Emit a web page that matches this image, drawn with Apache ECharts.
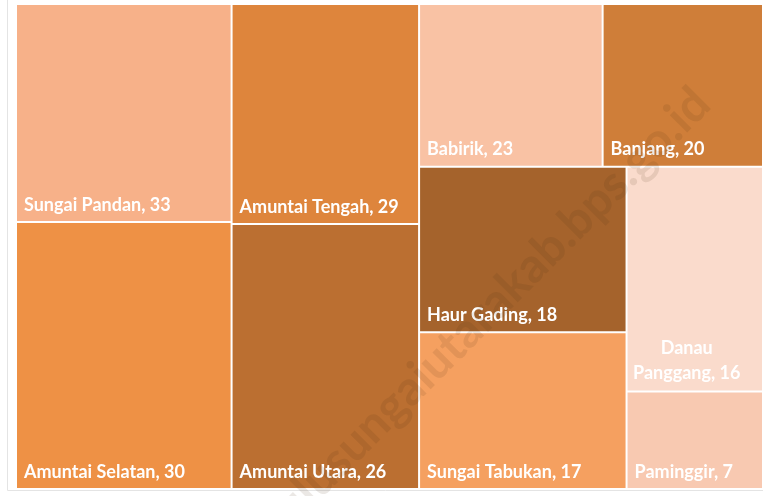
<!DOCTYPE html>
<html lang="id">
<head>
    <meta charset="UTF-8">
    <title>Jumlah Desa per Kecamatan</title>
    <script src="https://cdn.jsdelivr.net/npm/echarts@6/dist/echarts.min.js"></script>
    <style>
        html, body { margin: 0; padding: 0; background: #fff; }
        #treemapBox { width: 763px; height: 496px; }
    </style>
</head>
<body>
<div id="treemapBox"></div>
<script type="text/javascript">
    // kecamatan, urut seperti di gambar
    var districts = ['Sungai Pandan', 'Amuntai Selatan', 'Amuntai Tengah', 'Amuntai Utara', 'Babirik',
        'Banjang', 'Haur Gading', 'Sungai Tabukan', 'Danau Panggang', 'Paminggir'];
    // angka pada label
    var villageCounts = [33, 30, 29, 26, 23, 20, 18, 17, 16, 7];
    // luas kotak di gambar (% dari seluruh area), tidak sama persis dengan angka label
    var boxShare = [12.97, 15.89, 11.38, 13.72, 8.24, 7.20, 9.49, 8.97, 8.47, 3.67];
    // label yang dipecah jadi dua baris
    var wrappedNames = ['Danau Panggang'];

    var boxColors = ['#F7B189', '#EE9145', '#DE853C', '#BB6F31', '#F9C2A4',
        '#CF7E39', '#A5632C', '#F5A060', '#FADBCC', '#F8C9B1'];

    var labelFont = {
        color: '#fff',
        fontFamily: 'Lato',
        fontWeight: 'bold',
        fontSize: 18
    };

    var myChart = echarts.init(document.getElementById('treemapBox'));

    var treeData = [];
    for (var i = 0; i < districts.length; i++) {
        var item = {
            name: districts[i],
            value: [boxShare[i], villageCounts[i]],
            itemStyle: { color: boxColors[i] }
        };
        if (wrappedNames.indexOf(districts[i]) >= 0) {
            var words = districts[i].split(' ');
            item.label = {
                position: ['44%', '97.7%'],
                align: 'center',
                verticalAlign: 'bottom',
                lineHeight: 25,
                formatter: words[0] + '\n' + words.slice(1).join(' ') + ', ' + villageCounts[i]
            };
        }
        treeData.push(item);
    }

    var option = {
        animation: false,
        graphic: [
            {
                type: 'rect',
                shape: { x: 7.5, y: -10, width: 800, height: 500.5 },
                style: { fill: 'none', stroke: '#e4e4e4', lineWidth: 1 },
                z: -10
            },
            {
                type: 'text',
                x: 702,
                y: 96,
                rotation: 45 * Math.PI / 180,
                z: 100,
                style: {
                    text: 'hulusungaiutarakab.bps.go.id',
                    fill: 'rgba(70, 45, 20, 0.11)',
                    fontFamily: 'Lato',
                    fontWeight: 'bold',
                    fontSize: 48,
                    align: 'right',
                    verticalAlign: 'middle'
                }
            }
        ],
        series: [
            {
                type: 'treemap',
                left: 17,
                top: 5,
                width: 745,
                height: 483,
                sort: false,
                squareRatio: 1,
                roam: false,
                nodeClick: false,
                breadcrumb: { show: false },
                label: {
                    show: true,
                    position: 'insideBottomLeft',
                    distance: 7,
                    padding: 0,
                    lineHeight: 18,
                    overflow: 'none',
                    color: labelFont.color,
                    fontFamily: labelFont.fontFamily,
                    fontWeight: labelFont.fontWeight,
                    fontSize: labelFont.fontSize,
                    formatter: function (p) {
                        return p.name + ', ' + p.value[1];
                    }
                },
                itemStyle: { borderWidth: 0, borderColor: '#fff' },
                levels: [
                    { itemStyle: { borderWidth: 0, gapWidth: 2, borderColor: '#fff' } }
                ],
                data: treeData
            }
        ]
    };

    myChart.setOption(option);
</script>
</body>
</html>
